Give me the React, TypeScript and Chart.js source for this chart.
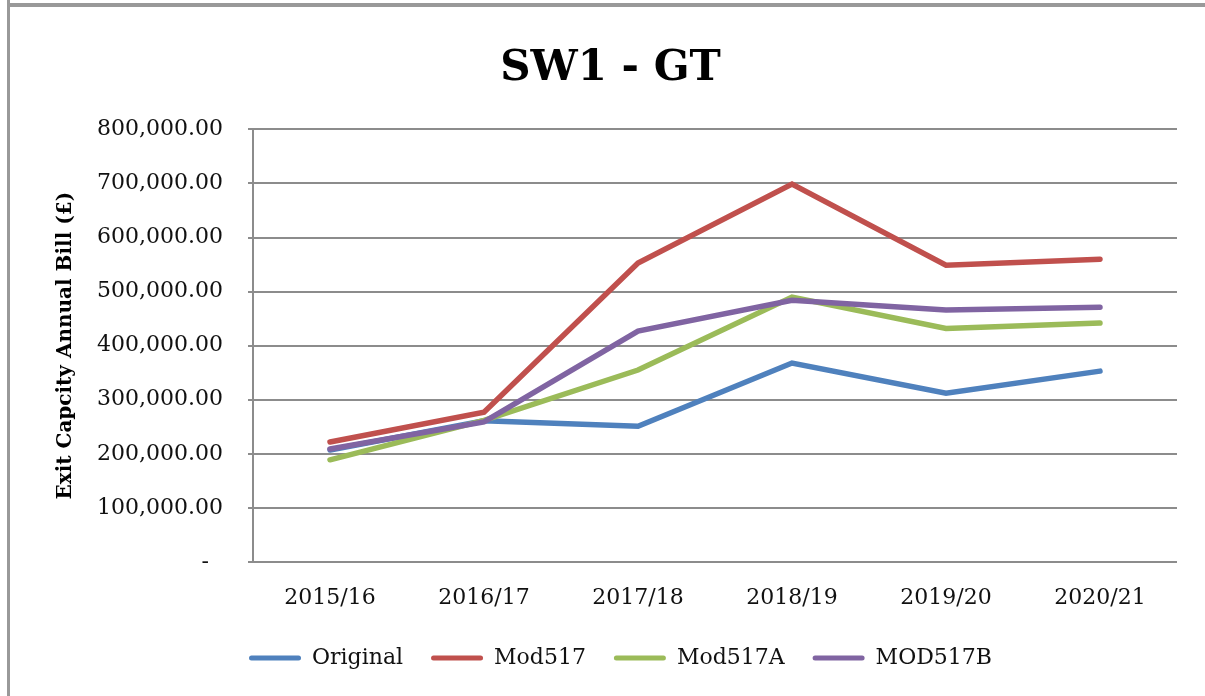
import React, { useEffect, useRef } from "react";
import { Chart, registerables } from "chart.js";

Chart.register(...registerables);

const categories = ["2015/16", "2016/17", "2017/18", "2018/19", "2019/20", "2020/21"];
const seriesNames = ["Original", "Mod517", "Mod517A", "MOD517B"];
const originalValues = [207000, 261000, 251000, 368000, 312000, 353000];
const mod517Values = [222000, 277000, 553000, 699000, 549000, 560000];
const mod517AValues = [189000, 262000, 355000, 490000, 432000, 442000];
const mod517BValues = [209000, 259000, 427000, 484000, 466000, 471000];
const seriesColors = ["#4F81BD", "#C0504D", "#9BBB59", "#8064A2"];
const yTicks = [0, 100000, 200000, 300000, 400000, 500000, 600000, 700000, 800000];

const titleText = "SW1 - GT";
const yAxisTitle = "Exit Capcity Annual Bill (£)";

const FONT = "'DejaVu Serif', serif";

function formatTick(v: number): string {
  if (v === 0) return "-  ";
  return v.toLocaleString("en-US", { minimumFractionDigits: 2, maximumFractionDigits: 2 });
}

const boxShift = {
  id: "boxShift",
  afterLayout(chart: any) {
    const l = chart.legend;
    if (l) {
      l.left += 32;
      l.right += 32;
    }
    const t = chart.titleBlock;
    if (t) {
      t.left += 22;
      t.right += 22;
    }
  },
};

export default function App() {
  const ref = useRef<HTMLCanvasElement | null>(null);

  useEffect(() => {
    if (!ref.current) return;
    const allValues = [originalValues, mod517Values, mod517AValues, mod517BValues];
    const chart = new Chart(ref.current, {
      type: "line",
      data: {
        labels: categories,
        datasets: allValues.map((vals, i) => ({
          label: seriesNames[i],
          data: vals,
          borderColor: seriesColors[i],
          backgroundColor: seriesColors[i],
          borderWidth: 5.5,
          pointRadius: 0,
          pointHoverRadius: 0,
          tension: 0,
          fill: false,
          borderCapStyle: "round" as const,
          order: 4 - i,
        })),
      },
      options: {
        animation: false,
        responsive: false,
        maintainAspectRatio: false,
        layout: { padding: { left: 0, right: 28, top: 0, bottom: 17 } },
        plugins: {
          title: {
            display: true,
            text: titleText,
            color: "#000",
            font: { family: FONT, size: 42, weight: "bold" },
            padding: { top: 44, bottom: 35 },
          },
          legend: {
            display: true,
            position: "bottom",
            reverse: true,
            labels: {
              color: "#111",
              font: { family: FONT, size: 22 },
              boxWidth: 52,
              boxHeight: 5,
              padding: 28,
              useBorderRadius: true,
              borderRadius: 2.5,
              generateLabels: (c: any) => {
                const items = Chart.defaults.plugins.legend.labels.generateLabels(c);
                return items.map((it: any) => ({ ...it, lineWidth: 0, strokeStyle: "transparent" }));
              },
            },
          },
          tooltip: { enabled: false },
        },
        scales: {
          x: {
            type: "category",
            offset: true,
            grid: { display: false, drawTicks: false },
            border: { display: false },
            ticks: {
              color: "#111",
              font: { family: FONT, size: 22 },
              padding: 23,
              maxRotation: 0,
              autoSkip: false,
            },
            afterFit: (s: any) => {
              s.height = 57;
            },
          },
          y: {
            min: 0,
            max: 800000,
            afterBuildTicks: (s: any) => {
              s.ticks = yTicks.map((v) => ({ value: v }));
            },
            grid: {
              color: "#8c8c8c",
              lineWidth: 2,
              drawTicks: true,
              tickLength: 5,
            },
            border: { display: true, color: "#8c8c8c", width: 2 },
            ticks: {
              color: "#111",
              font: { family: FONT, size: 22 },
              padding: 25,
              callback: (v: any) => formatTick(Number(v)),
            },
            title: {
              display: true,
              text: yAxisTitle,
              color: "#000",
              font: { family: FONT, size: 20, weight: "bold" },
              padding: { top: 54, bottom: 0 },
            },
            afterFit: (s: any) => {
              s.width = 253;
            },
          },
        },
      },
      plugins: [boxShift],
    });
    return () => chart.destroy();
  }, []);

  return (
    <div
      style={{
        position: "absolute",
        left: 0,
        top: 0,
        width: 1205,
        height: 696,
        background: "#fff",
        overflow: "hidden",
      }}
    >
      <canvas ref={ref} width={1205} height={696} style={{ position: "absolute", left: 0, top: 0 }} />
      <div style={{ position: "absolute", left: 7, top: 0, width: 3, height: 696, background: "#999" }} />
      <div style={{ position: "absolute", left: 10, top: 3, right: 0, height: 4, background: "#999" }} />
    </div>
  );
}
